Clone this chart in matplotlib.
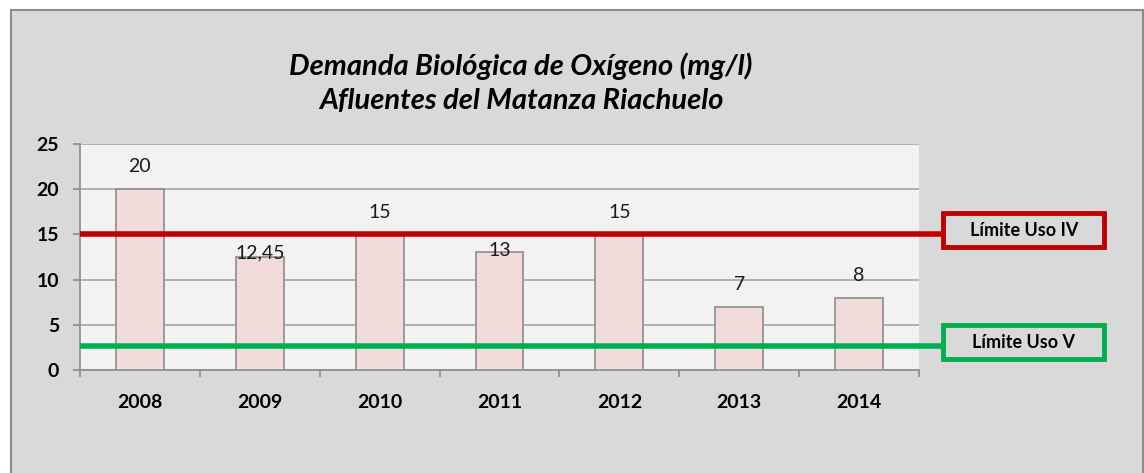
import numpy as np
import matplotlib.pyplot as plt
from matplotlib.patches import Rectangle

# datos
years = ['2008', '2009', '2010', '2011', '2012', '2013', '2014']
dbo = [20, 12.45, 15, 13, 15, 7, 8]
dbo_labels = ['20', '12,45', '15', '13', '15', '7', '8']
limite_iv = 15
limite_v = 2.6
limit_names = ['Límite Uso IV', 'Límite Uso V']

# desplazamiento (puntos) del centro de cada etiqueta sobre la barra
label_dy = [16.5, 3, 16, 1.5, 16, 16, 16]

plt.rcParams['font.family'] = ['Lato', 'DejaVu Sans']

W, H = 1144, 473
fig = plt.figure(figsize=(W / 100, H / 100), dpi=100)
fig.patch.set_facecolor('white')

# fondo gris del grafico con borde
fig.patches.append(Rectangle((11 / W, -0.05), (1143 - 11) / W, (H - 10) / H + 0.05,
                             transform=fig.transFigure, facecolor='#D9D9D9',
                             edgecolor='#8C8C8C', linewidth=1.5, zorder=-10))

ax = fig.add_axes([80 / W, (H - 370) / H, (919 - 80) / W, (370 - 144) / H])
ax.set_facecolor('#F2F2F2')

x = np.arange(len(years))
ax.bar(x, dbo, width=0.4, color='#F2DCDB', edgecolor='#8C8C8C', linewidth=1.2, zorder=3)

for i, (v, t) in enumerate(zip(dbo, dbo_labels)):
    ax.annotate(t, (x[i], v), xytext=(0, label_dy[i]), textcoords='offset points',
                ha='center', va='center', fontsize=14, color='#1a1a1a', zorder=5)

ax.set_xlim(-0.5, len(years) - 0.5)
ax.set_ylim(0, 25)
ax.set_yticks([0, 5, 10, 15, 20, 25])
ax.set_xticks(x)
ax.set_xticklabels(years, fontsize=14, fontweight='bold')
ax.set_xticks(np.arange(-0.5, len(years)), minor=True)
ax.tick_params(axis='x', which='major', length=0, pad=17)
ax.tick_params(axis='x', which='minor', length=5, color='#8C8C8C', width=1.2, direction='out')
ax.tick_params(axis='y', length=5, color='#8C8C8C', width=1.2, pad=10, labelsize=14)
for lab in ax.get_yticklabels():
    lab.set_fontweight('bold')

ax.grid(axis='y', color='#A6A6A6', linewidth=1.2, zorder=0)
ax.set_axisbelow(True)
for s in ['top', 'right']:
    ax.spines[s].set_visible(False)
for s in ['left', 'bottom']:
    ax.spines[s].set_color('#8C8C8C')
    ax.spines[s].set_linewidth(1.2)

# lineas de limite que se extienden hasta los recuadros
trans = ax.get_yaxis_transform()
for yv, col, name in [(limite_iv, '#C00000', limit_names[0]), (limite_v, '#00B050', limit_names[1])]:
    ax.plot([0, (943 - 80) / (919 - 80)], [yv, yv], color=col, linewidth=4,
            transform=trans, clip_on=False, zorder=6, solid_capstyle='butt')
    yc = ax.transData.transform((0, yv))[1] + 4
    # recuadro con texto
    fig.patches.append(Rectangle((943 / W, (yc - 17) / H), (1104 - 943) / W, 34 / H,
                                 transform=fig.transFigure, facecolor='#D9D9D9',
                                 edgecolor=col, linewidth=3.5, zorder=8))
    fig.text(1024 / W, yc / H, name, ha='center', va='center',
             fontsize=13, fontweight='bold', color='black', zorder=9)

fig.text(521 / W, (H - 66) / H, 'Demanda Biológica de Oxígeno (mg/l)', ha='center', va='center',
         fontsize=21, fontweight='bold', fontstyle='italic')
fig.text(521 / W, (H - 101) / H, 'Afluentes del Matanza Riachuelo', ha='center', va='center',
         fontsize=21, fontweight='bold', fontstyle='italic')

fig.savefig('out.png', dpi=100, facecolor=fig.get_facecolor())
